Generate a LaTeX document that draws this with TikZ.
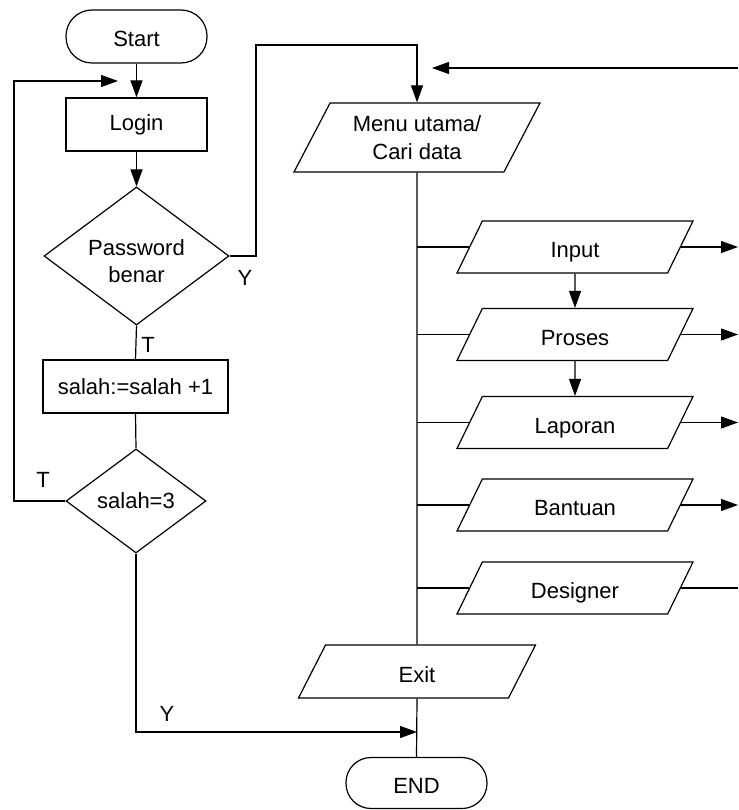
\documentclass[tikz,border=0pt]{standalone}
\usepackage{fontspec}
\setmainfont{Liberation Sans}
\usetikzlibrary{shapes.geometric,arrows.meta}
\begin{document}
\begin{tikzpicture}[x=1pt,y=-1pt,
  every node/.style={font=\fontsize{22}{27.5}\selectfont, inner sep=0pt, align=center},
  line/.style={line width=1.2pt},
  arr/.style={line width=1.2pt, -{Triangle[length=17pt,width=12pt]}},
  terminal/.style={draw, line width=1.2pt, rectangle, rounded corners=26pt,
    minimum width=141pt, minimum height=53pt, text height=21pt, text depth=0pt},
  proc/.style={draw, line width=1.2pt, rectangle, minimum height=53pt},
  decision/.style={draw, line width=1.2pt, diamond},
  io/.style={draw, line width=1.2pt, trapezium, trapezium left angle=64,
    trapezium right angle=116, trapezium stretches body},
  ioline/.style={io, text height=21pt, text depth=0pt, inner ysep=15.5pt},
  lbl/.style={}
]
\useasboundingbox (0,0) rectangle (738,810);

% login column
\node[terminal] (start) at (136.5,36.5) {Start};
\node[proc, minimum width=141pt] (login) at (136.5,124.5) {Login};
\node[decision, minimum width=185pt, minimum height=138pt, aspect=1.34] (pw) at (136.5,256)
  {\parbox[c][50pt][c]{100pt}{\centering\vspace*{10pt}Password\\benar}};
\node[proc, minimum width=185pt] (inc) at (135.5,386.5) {salah:=salah +1};
\node[decision, minimum width=140pt, minimum height=104pt, aspect=1.35] (cek) at (136,501) {salah=3};

% menu column
\node[io, minimum width=246pt, inner ysep=14pt, trapezium left angle=62.4, trapezium right angle=117.6] (menu) at (417,137.5)
  {\parbox[c][41pt][c]{150pt}{\centering Menu utama/\\Cari data}};
\node[ioline, minimum width=236pt] (input) at (575,247) {Input};
\node[ioline, minimum width=236pt] (proses) at (575,334.5) {Proses};
\node[ioline, minimum width=236pt] (laporan) at (575,422.5) {Laporan};
\node[ioline, minimum width=236pt] (bantuan) at (575,505) {Bantuan};
\node[ioline, minimum width=236pt] (designer) at (575,588) {Designer};
\node[ioline, minimum width=237pt, inner ysep=16pt, trapezium left angle=63, trapezium right angle=117] (exit) at (417,671.5) {Exit};
\node[terminal, minimum height=51pt, rounded corners=25pt] (end) at (416.5,783) {END};

% labels
\node[lbl] (ya) at (245,278) {Y};
\node[lbl] (ta) at (148,345) {T};
\node[lbl] (tb) at (43,480) {T};
\node[lbl] (yb) at (167,714) {Y};

% free ends
\coordinate (edge) at (738,0);
\coordinate (back) at (738,68);
\coordinate (backtip) at (432,68);
\coordinate (looptip) at (118,81);
\coordinate (join) at (417,732);

% login flow
\draw[arr] (start) -- (login);
\draw[arr] (login) -- (pw);
\draw[line] (pw.south) -- (inc.north);
\draw[line] (inc.south) -- (cek.north);
\draw[arr] (cek.west) -| (14,81) -- (looptip);
\draw[arr] (pw.east) -| (256,45) -| (menu.north);
\draw[arr] (cek.south) |- (join);

% menu flow
\draw[arr] (back) -- (backtip);
\draw[line] (menu.south) -- (exit.north);
\draw[line] (exit.south) -- (end.north);
\foreach \n in {input,proses,laporan,bantuan,designer}
  \draw[line] (menu.south |- \n.left side) -- (\n.left side);
\foreach \n in {input,proses,laporan,bantuan}
  \draw[arr] (\n.right side) -- (\n.right side -| edge);
\draw[line] (designer.right side) -- (designer.right side -| edge);
\draw[arr] (input) -- (proses);
\draw[arr] (proses) -- (laporan);
\end{tikzpicture}
\end{document}
